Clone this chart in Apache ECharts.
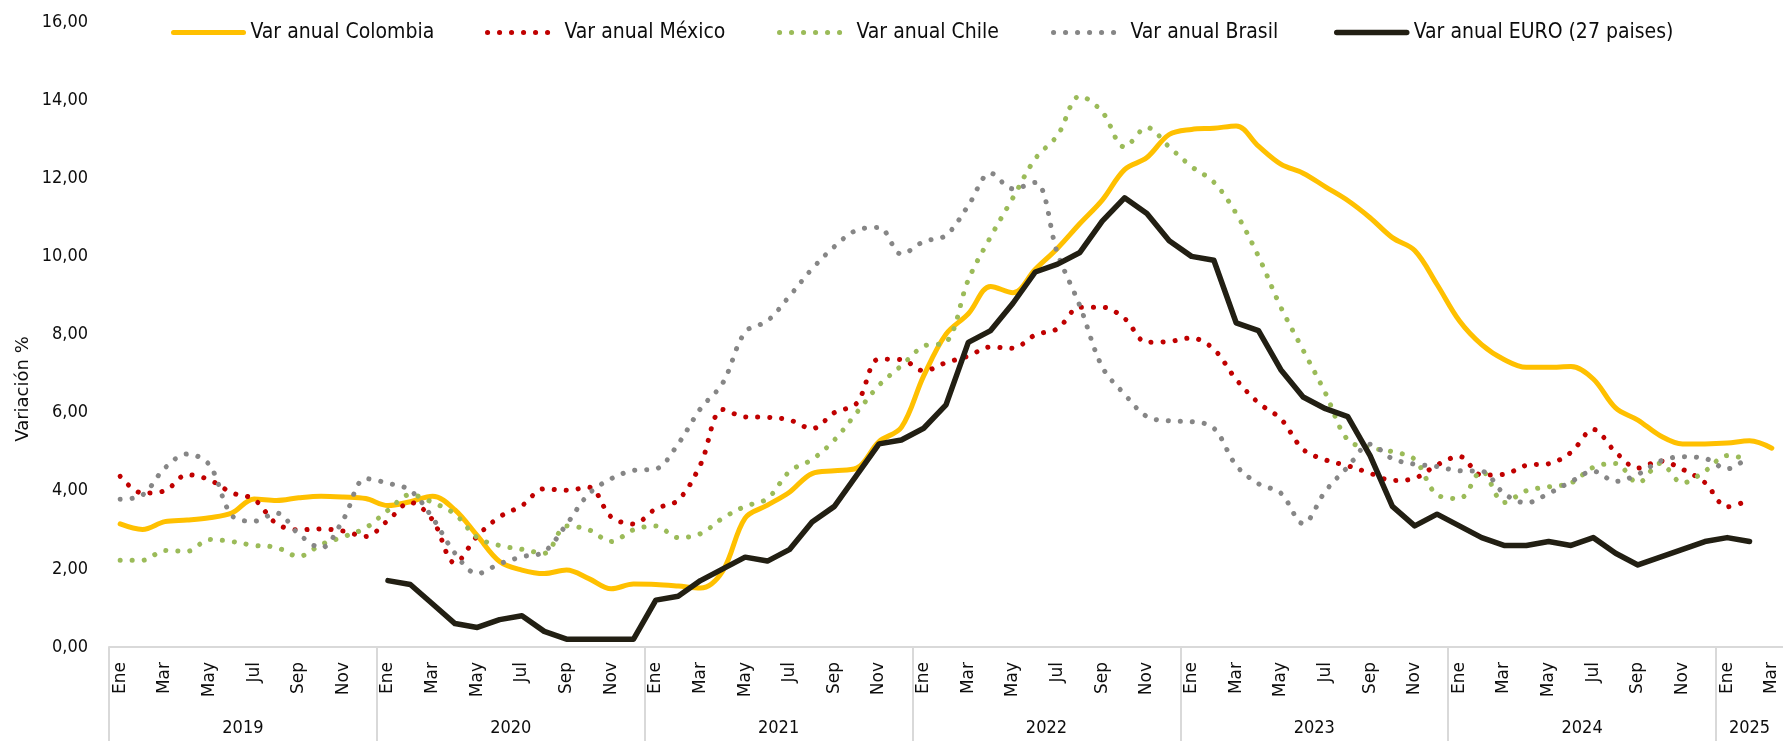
<!DOCTYPE html>
<html>
<head>
<meta charset="utf-8">
<title>Variación anual</title>
<script src="https://cdn.jsdelivr.net/npm/echarts@6/dist/echarts.min.js"></script>
<style>
  html, body { margin: 0; padding: 0; background: #fff; }
  #chart { width: 1783px; height: 741px; }
</style>
</head>
<body>
<div id="chart"></div>
<script>
  // meses Ene 2019 - Mar 2025
  const monthNames = ['Ene', 'Feb', 'Mar', 'Abr', 'May', 'Jun', 'Jul', 'Ago', 'Sep', 'Oct', 'Nov', 'Dic']
  const years = ['2019', '2020', '2021', '2022', '2023', '2024', '2025']
  const monthsPerYear = [12, 12, 12, 12, 12, 12, 3]
  const yTicks = [0, 2, 4, 6, 8, 10, 12, 14, 16]

  const colombia = [
    3.15, 3.01, 3.21, 3.25, 3.31, 3.43, 3.79, 3.75, 3.82, 3.86, 3.84, 3.80,
    3.62, 3.72, 3.86, 3.51, 2.85, 2.19, 1.97, 1.88, 1.97, 1.75, 1.49, 1.61,
    1.60, 1.56, 1.51, 1.95, 3.30, 3.63, 3.97, 4.44, 4.51, 4.58, 5.26, 5.62,
    6.94, 8.01, 8.53, 9.23, 9.07, 9.67, 10.21, 10.84, 11.44, 12.22, 12.53, 13.12,
    13.25, 13.28, 13.34, 12.82, 12.36, 12.13, 11.78, 11.43, 10.99, 10.48, 10.15, 9.28,
    8.35, 7.74, 7.36, 7.16, 7.16, 7.18, 6.86, 6.12, 5.81, 5.41, 5.20, 5.20,
    5.22, 5.28, 5.09
  ]
  const mexico = [
    4.37, 3.94, 4.00, 4.41, 4.28, 3.95, 3.78, 3.16, 3.00, 3.02, 2.97, 2.83,
    3.24, 3.70, 3.25, 2.15, 2.84, 3.33, 3.62, 4.05, 4.01, 4.09, 3.33, 3.15,
    3.54, 3.76, 4.67, 6.08, 5.89, 5.88, 5.81, 5.59, 6.00, 6.24, 7.37, 7.36,
    7.07, 7.28, 7.45, 7.68, 7.65, 7.99, 8.15, 8.70, 8.70, 8.41, 7.80, 7.82,
    7.91, 7.62, 6.85, 6.25, 5.84, 5.06, 4.79, 4.64, 4.45, 4.26, 4.32, 4.66,
    4.88, 4.40, 4.42, 4.65, 4.69, 4.98, 5.57, 4.99, 4.58, 4.76, 4.55, 4.21,
    3.59, 3.77
  ]
  const chile = [
    2.22, 2.22, 2.47, 2.45, 2.75, 2.70, 2.60, 2.55, 2.32, 2.62, 2.82, 3.05,
    3.5, 3.9, 3.7, 3.4, 2.8, 2.6, 2.5, 2.4, 3.1, 3.0, 2.7, 3.0,
    3.1, 2.8, 2.9, 3.3, 3.6, 3.8, 4.5, 4.8, 5.3, 6.0, 6.7, 7.2,
    7.7, 7.8, 9.4, 10.5, 11.5, 12.5, 13.1, 14.1, 13.7, 12.8, 13.3, 12.8,
    12.3, 11.9, 11.1, 10.0, 8.7, 7.6, 6.5, 5.3, 5.1, 5.0, 4.8, 3.9,
    3.8, 4.5, 3.7, 4.0, 4.1, 4.2, 4.6, 4.7, 4.2, 4.7, 4.2, 4.5,
    4.9, 4.8
  ]
  const brasil = [
    3.78, 3.89, 4.58, 4.94, 4.66, 3.37, 3.22, 3.43, 2.89, 2.54, 3.27, 4.31,
    4.19, 4.01, 3.30, 2.40, 1.88, 2.13, 2.31, 2.44, 3.14, 3.92, 4.31, 4.52,
    4.56, 5.20, 6.10, 6.76, 8.06, 8.35, 8.99, 9.68, 10.25, 10.67, 10.74, 10.06,
    10.38, 10.54, 11.30, 12.13, 11.73, 11.89, 10.07, 8.73, 7.17, 6.47, 5.90, 5.79,
    5.77, 5.60, 4.65, 4.18, 3.94, 3.16, 3.99, 4.61, 5.19, 4.82, 4.68, 4.62,
    4.51, 4.50, 3.93, 3.69, 3.93, 4.23, 4.50, 4.24, 4.42, 4.76, 4.87, 4.83,
    4.56, 4.90
  ]
  const euro = [
    null, null, null, null, null, null, null, null, null, null, null, null,
    1.7, 1.6, 1.1, 0.6, 0.5, 0.7, 0.8, 0.4, 0.2, 0.2, 0.2, 0.2,
    1.2, 1.3, 1.7, 2.0, 2.3, 2.2, 2.5, 3.2, 3.6, 4.4, 5.2, 5.3,
    5.6, 6.2, 7.8, 8.1, 8.8, 9.6, 9.8, 10.1, 10.9, 11.5, 11.1, 10.4,
    10.0, 9.9, 8.3, 8.1, 7.1, 6.4, 6.1, 5.9, 4.9, 3.6, 3.1, 3.4,
    3.1, 2.8, 2.6, 2.6, 2.7, 2.6, 2.8, 2.4, 2.1, 2.3, 2.5, 2.7,
    2.8, 2.7
  ]

  const seriesNames = ['Var anual Colombia', 'Var anual México', 'Var anual Chile', 'Var anual Brasil', 'Var anual EURO (27 paises)']

  // categorias del eje x
  const categories = []
  monthsPerYear.forEach(n => {
    for (let m = 0; m < n; m++) categories.push(monthNames[m])
  })
  const totalMonths = categories.length

  // inicio y centro de cada grupo de año (en unidades de mes)
  const yearStarts = []
  const yearCenters = []
  let start = 0
  monthsPerYear.forEach(n => {
    yearStarts.push(start)
    yearCenters.push(start + n / 2)
    start += n
  })

  const condensed = '"DejaVu Sans Condensed", "Liberation Sans Narrow", sans-serif'
  const dotted = [0.1, 11.9]

  const chart = echarts.init(document.getElementById('chart'))

  function legendAt(name, left, width) {
    return {
      data: [name],
      left: left,
      top: 22,
      padding: 0,
      itemWidth: 70,
      itemHeight: 14,
      itemGap: 0,
      itemStyle: { opacity: 0 },
      lineStyle: { width: width },
      textStyle: { fontSize: 21, fontFamily: condensed, color: '#0d0d0d', padding: [0, 0, 0, 2] }
    }
  }

  chart.setOption({
    animation: false,
    backgroundColor: '#ffffff',
    legend: [
      legendAt(seriesNames[0], 171, 5),
      legendAt(seriesNames[1], 485, 5),
      legendAt(seriesNames[2], 777, 5),
      legendAt(seriesNames[3], 1051, 5),
      legendAt(seriesNames[4], 1334, 5.5)
    ],
    grid: {
      left: 109,
      right: 0,
      top: 22,
      bottom: 94,
      containLabel: false
    },
    graphic: [{
      type: 'text',
      x: 23,
      y: 389,
      rotation: Math.PI / 2,
      style: {
        text: 'Variación %',
        fontSize: 18,
        fontFamily: 'DejaVu Sans',
        fill: '#0d0d0d',
        align: 'center',
        verticalAlign: 'middle'
      }
    }],
    xAxis: [{
      type: 'category',
      data: categories,
      boundaryGap: true,
      axisLine: {
        lineStyle: { color: '#d9d9d9', width: 2 }
      },
      axisTick: { show: false },
      axisLabel: {
        interval: 1,
        rotate: 90,
        margin: 15,
        fontSize: 17,
        fontFamily: 'DejaVu Sans',
        color: '#0d0d0d'
      },
      splitLine: { show: false }
    }, {
      type: 'value',
      min: 0,
      max: totalMonths,
      position: 'bottom',
      axisLine: { show: false },
      axisTick: {
        show: true,
        customValues: yearStarts,
        length: 94,
        lineStyle: { color: '#d9d9d9', width: 2 }
      },
      splitLine: { show: false },
      axisLabel: {
        customValues: yearCenters,
        formatter: (v) => {
          const i = yearCenters.indexOf(v)
          return i >= 0 ? years[i] : ''
        },
        margin: 72,
        fontSize: 18,
        fontFamily: condensed,
        color: '#0d0d0d'
      }
    }],
    yAxis: {
      type: 'value',
      min: yTicks[0],
      max: yTicks[yTicks.length - 1],
      interval: 2,
      axisLine: { show: false },
      axisTick: { show: false },
      splitLine: { show: false },
      axisLabel: {
        margin: 21,
        fontSize: 18,
        fontFamily: condensed,
        color: '#0d0d0d',
        formatter: (v) => v.toFixed(2).replace('.', ',')
      }
    },
    series: [{
      name: seriesNames[0],
      type: 'line',
      data: colombia,
      smooth: 0.35,
      symbol: 'none',
      color: '#FFC000',
      lineStyle: { color: '#FFC000', width: 5, cap: 'round', join: 'round' }
    }, {
      name: seriesNames[1],
      type: 'line',
      data: mexico,
      smooth: 0.35,
      symbol: 'none',
      color: '#C00000',
      lineStyle: { color: '#C00000', width: 5, type: dotted, cap: 'round' }
    }, {
      name: seriesNames[2],
      type: 'line',
      data: chile,
      smooth: 0.35,
      symbol: 'none',
      color: '#9BBB59',
      lineStyle: { color: '#9BBB59', width: 5, type: dotted, cap: 'round' }
    }, {
      name: seriesNames[3],
      type: 'line',
      data: brasil,
      smooth: 0.35,
      symbol: 'none',
      color: '#868686',
      lineStyle: { color: '#868686', width: 5, type: dotted, cap: 'round' }
    }, {
      name: seriesNames[4],
      type: 'line',
      data: euro,
      smooth: false,
      symbol: 'none',
      color: '#221F13',
      lineStyle: { color: '#221F13', width: 5.5, cap: 'round', join: 'round' }
    }]
  })
</script>
</body>
</html>
